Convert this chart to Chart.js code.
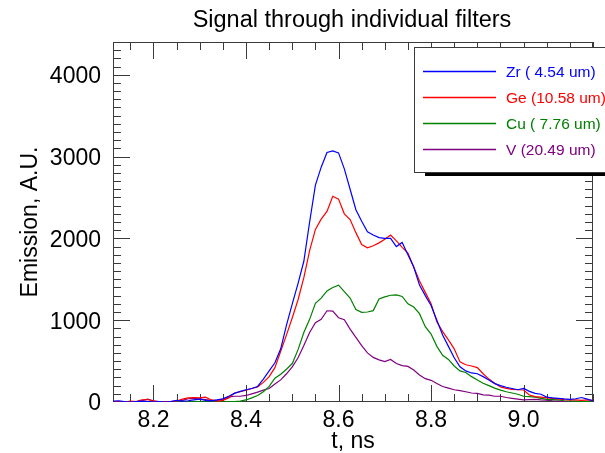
<!DOCTYPE html>
<html>
<head>
<meta charset="utf-8">
<script src="https://cdn.jsdelivr.net/npm/chart.js@4"></script>
<style>
  body { margin: 0; background: #fff; }
  canvas { display: block; }
</style>
</head>
<body>
<canvas id="filters-viz" width="605" height="453"></canvas>
<script>
// Sample times (ns)
var times = [ 8.1125, 8.125, 8.1375, 8.15, 8.1625, 8.175, 8.1875, 8.2, 8.2125, 8.225,
              8.2375, 8.25, 8.2625, 8.275, 8.2875, 8.3, 8.3125, 8.325, 8.3375, 8.35,
              8.3625, 8.375, 8.3875, 8.4, 8.4125, 8.425, 8.4375, 8.45, 8.4625, 8.475,
              8.4875, 8.5, 8.5125, 8.525, 8.5375, 8.55, 8.5625, 8.575, 8.5875, 8.6,
              8.6125, 8.625, 8.6375, 8.65, 8.6625, 8.675, 8.6875, 8.7, 8.7125, 8.725,
              8.7375, 8.75, 8.7625, 8.775, 8.7875, 8.8, 8.8125, 8.825, 8.8375, 8.85,
              8.8625, 8.875, 8.8875, 8.9, 8.9125, 8.925, 8.9375, 8.95, 8.9625, 8.975,
              8.9875, 9.0, 9.0125, 9.025, 9.0375, 9.05, 9.0625, 9.075, 9.0875, 9.1,
              9.1125, 9.125, 9.1375, 9.15 ];

// Emission through each filter (A.U.)
var zr = [ 10, 15, 5, 0, 5, 10, 5, 0, 5, 0,
           5, 20, 10, 15, 25, 35, 20, 15, 25, 40,
           70, 105, 130, 150, 165, 190, 280, 380, 480, 650,
           940, 1200, 1450, 1720, 2200, 2650, 2870, 3050, 3070, 3045,
           2850, 2600, 2350, 2210, 2080, 2042, 2010, 2000, 2000, 1900,
           1950, 1800, 1650, 1430, 1300, 1180, 1000, 820, 680, 540,
           430, 380, 355, 345, 310, 270, 225, 200, 180, 165,
           150, 165, 130, 105, 95, 60, 50, 45, 38, 33,
           40, 55, 35, 15 ];
var ge = [ 0, 5, 0, 10, 5, 25, 30, 10, 0, 5,
           5, 10, 35, 50, 55, 50, 60, 25, 10, 20,
           50, 110, 125, 145, 165, 185, 240, 310, 420, 620,
           820, 1030, 1250, 1520, 1850, 2110, 2235, 2330, 2515, 2480,
           2300, 2230, 2070, 1925, 1885, 1910, 1945, 1990, 2040, 1970,
           1890, 1820, 1650, 1480, 1340, 1200, 980, 860, 760, 650,
           490, 455, 440, 420, 345, 280, 230, 185, 167, 155,
           150, 147, 85, 65, 60, 50, 45, 38, 30, 25,
           25, 20, 25, 20 ];
var cu = [ 0, 0, 5, 0, 0, 5, 0, 0, 5, 0,
           0, 5, 0, 0, 5, 5, 0, 0, 5, 0,
           5, 5, 10, 25, 50, 80, 125, 190, 290, 340,
           400, 470, 640, 850, 1010, 1205, 1270, 1358, 1400, 1428,
           1350, 1270, 1130, 1095, 1100, 1117, 1260, 1285, 1305, 1310,
           1290, 1200, 1160, 1080, 920, 830, 680, 570, 520, 440,
           380, 360, 310, 270, 230, 200, 170, 145, 125, 110,
           95, 70, 65, 60, 45, 33, 30, 25, 15, 10,
           10, 5, 5, 15 ];
var v  = [ 5, 5, 0, 5, 5, 15, 35, 15, 5, 5,
           5, 10, 20, 40, 45, 40, 30, 20, 20, 35,
           60, 70, 70, 80, 100, 120, 145, 165, 220, 270,
           345, 430, 540, 690, 850, 970, 1010, 1115, 1110, 1030,
           1005, 890, 790, 690, 600, 545, 515, 493, 520, 470,
           445, 435, 390, 330, 285, 265, 225, 190, 170, 150,
           140, 125, 110, 105, 88, 85, 70, 70, 55, 45,
           35, 25, 30, 33, 25, 22, 15, 10, 5, 5,
           5, 5, 5, 10 ];

var seriesLabels = [ 'Zr ( 4.54 um)', 'Ge (10.58 um)', 'Cu ( 7.76 um)', 'V (20.49 um)' ];
var seriesColors = [ '#0000ff', '#ff0000', '#008000', '#800080' ];

var xTickValues = [ 8.2, 8.4, 8.6, 8.8, 9.0 ];
var yTickValues = [ 0, 1000, 2000, 3000, 4000 ];

var FONT = "'Liberation Sans', Arial, Helvetica, sans-serif";
var AXIS_COLOR = '#3a3a3a';

function toPoints(yValues) {
	return times.map(function(t, i) { return { x: t, y: yValues[i] }; });
}

// IDL-style box with inward ticks on all four sides
var frameTicks = {
	id: 'frameTicks',
	beforeDatasetsDraw: function(chart) {
		var ctx = chart.ctx, a = chart.chartArea;
		var xs = chart.scales.x, ys = chart.scales.y;
		ctx.save();
		ctx.strokeStyle = AXIS_COLOR;
		ctx.lineWidth = 1;
		ctx.strokeRect(Math.round(a.left) + 0.5, Math.round(a.top) + 0.5,
		               Math.round(a.right - a.left) - 1, Math.round(a.bottom - a.top) - 1);
		ctx.beginPath();
		// x ticks every 0.05 ns, major every 0.2
		for (var k = 163; k <= 183; k++) {
			var px = Math.round(xs.getPixelForValue(k * 0.05)) + 0.5;
			var len = (k % 4 === 0) ? 17 : 8;
			ctx.moveTo(px, a.bottom); ctx.lineTo(px, a.bottom - len);
			ctx.moveTo(px, a.top); ctx.lineTo(px, a.top + len);
		}
		// y ticks every 100, major every 1000
		for (var j = 1; j < 44; j++) {
			var py = Math.round(ys.getPixelForValue(j * 100)) + 0.5;
			var l2 = (j % 10 === 0) ? 17 : 8;
			ctx.moveTo(a.left, py); ctx.lineTo(a.left + l2, py);
			ctx.moveTo(a.right, py); ctx.lineTo(a.right - l2, py);
		}
		ctx.stroke();
		ctx.restore();
	}
};

// Boxed legend with drop shadow in the upper right, plus the title
var boxLegend = {
	id: 'boxLegend',
	afterDatasetsDraw: function(chart) {
		var ctx = chart.ctx;
		var bx = 414, by = 47, bw = 260, bh = 125;
		ctx.save();
		ctx.fillStyle = '#000';
		ctx.fillRect(bx + 11, by + 10, bw, bh - 6);
		ctx.fillStyle = '#fff';
		ctx.fillRect(bx, by, bw, bh);
		ctx.strokeStyle = AXIS_COLOR;
		ctx.lineWidth = 1;
		ctx.strokeRect(bx + 0.5, by + 0.5, bw, bh);
		ctx.font = '15.5px ' + FONT;
		ctx.textBaseline = 'middle';
		ctx.textAlign = 'left';
		chart.data.datasets.forEach(function(ds, i) {
			var ry = Math.round(by + 24 + i * 26) + 0.5;
			ctx.strokeStyle = seriesColors[i];
			ctx.lineWidth = 1.3;
			ctx.beginPath();
			ctx.moveTo(bx + 9, ry);
			ctx.lineTo(bx + 82, ry);
			ctx.stroke();
			ctx.fillStyle = seriesColors[i];
			ctx.fillText(ds.label, bx + 92, ry + 1);
		});
		ctx.restore();
	},
	afterDraw: function(chart) {
		var ctx = chart.ctx;
		ctx.save();
		ctx.fillStyle = '#000';
		ctx.font = '23.5px ' + FONT;
		ctx.textAlign = 'center';
		ctx.textBaseline = 'middle';
		ctx.fillText('Signal through individual filters', 352, 21);
		ctx.restore();
	}
};

var aDatasets = seriesLabels.map(function(lbl, i) {
	return {
		label: lbl,
		data: toPoints([ zr, ge, cu, v ][i]),
		borderColor: seriesColors[i],
		backgroundColor: seriesColors[i],
		borderWidth: 1.2,
		pointRadius: 0,
		tension: 0,
		fill: false
	};
});

var cfg = {
	type: 'line',
	data: { datasets: aDatasets },
	options: {
		responsive: false,
		animation: false,
		layout: { padding: { top: 42, right: 12, left: 0, bottom: 0 } },
		plugins: {
			legend: { display: false },
			title: { display: false },
			tooltip: { enabled: false }
		},
		scales: {
			x: {
				type: 'linear',
				min: 8.1125,
				max: 9.15,
				grid: { display: false },
				border: { display: false },
				afterBuildTicks: function(s) { s.ticks = xTickValues.map(function(t) { return { value: t }; }); },
				afterFit: function(s) { s.height = 51; },
				ticks: {
					autoSkip: false, maxRotation: 0, padding: -3, color: '#000',
					font: { family: FONT, size: 23 },
					callback: function(val) { return val.toFixed(1); }
				},
				title: { display: true, text: 't, ns', color: '#000', padding: { top: 0, bottom: -2 },
				         font: { family: FONT, size: 23 } }
			},
			y: {
				min: 0,
				max: 4400,
				grid: { display: false },
				border: { display: false },
				afterBuildTicks: function(s) { s.ticks = yTickValues.map(function(t) { return { value: t }; }); },
				afterFit: function(s) { s.width = 113; },
				ticks: {
					autoSkip: false, padding: 4, labelOffset: 2, color: '#000',
					font: { family: FONT, size: 23 },
					callback: function(val) { return String(val); }
				},
				title: { display: true, text: 'Emission, A.U.', color: '#000',
				         padding: { top: 17, bottom: 0 },
				         font: { family: FONT, size: 23 } }
			}
		}
	},
	plugins: [ frameTicks, boxLegend ]
};

new Chart(document.getElementById('filters-viz'), cfg);
</script>
</body>
</html>
